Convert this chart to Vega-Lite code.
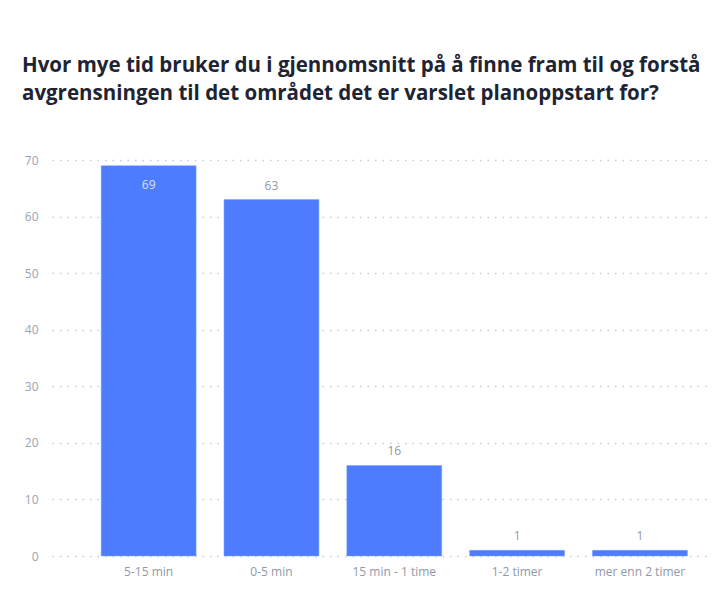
{
  "$schema": "https://vega.github.io/schema/vega-lite/v6.json",
  "autosize": "none",
  "width": 655,
  "height": 396,
  "padding": {"left": 52, "top": 160, "right": 15, "bottom": 34},
  "background": "white",
  "title": {
    "text": ["Hvor mye tid bruker du i gjennomsnitt på å finne fram til og forstå", "avgrensningen til det området det er varslet planoppstart for?"],
    "anchor": "start",
    "frame": "group",
    "dx": -30,
    "offset": 50,
    "font": "Open Sans",
    "fontSize": 20.5,
    "fontWeight": "bold",
    "color": "#1e2433",
    "lineHeight": 27.5
  },
  "config": {
    "view": {"stroke": null},
    "font": "Open Sans"
  },
  "data": {
    "values": [
      {"kategori": "5-15 min", "antall": 69},
      {"kategori": "0-5 min", "antall": 63},
      {"kategori": "15 min - 1 time", "antall": 16},
      {"kategori": "1-2 timer", "antall": 1},
      {"kategori": "mer enn 2 timer", "antall": 1}
    ]
  },
  "encoding": {
    "x": {
      "field": "kategori",
      "type": "nominal",
      "sort": null,
      "scale": {"paddingInner": 0.227, "paddingOuter": 0.28, "align": 0.715},
      "axis": {"title": null, "labelAngle": 0, "domain": false, "ticks": false, "labelPadding": 10, "labelColor": "#8f99a8", "labelFontSize": 12, "labelFont": "Open Sans"}
    },
    "y": {
      "field": "antall",
      "type": "quantitative",
      "scale": {"domain": [0, 70], "nice": false},
      "axis": {"title": null, "values": [0, 10, 20, 30, 40, 50, 60, 70], "domain": false, "ticks": false, "labelPadding": 14, "labelColor": "#9aa3b2", "labelFontSize": 12, "gridColor": "#c5cbd5", "gridDash": [1.5, 6], "gridWidth": 1.5}
    }
  },
  "layer": [
    {"mark": {"type": "bar", "color": "#4d7cfe", "stroke": "#7fa0ff", "strokeWidth": 0.5}},
    {
      "transform": [{"filter": "datum.antall >= 66"}],
      "mark": {"type": "text", "baseline": "top", "dy": 14, "fontSize": 12, "color": "#dbe4ff"},
      "encoding": {"text": {"field": "antall", "type": "quantitative"}}
    },
    {
      "transform": [{"filter": "datum.antall < 66"}],
      "mark": {"type": "text", "baseline": "bottom", "dy": -7, "fontSize": 12, "color": "#8f99a8"},
      "encoding": {"text": {"field": "antall", "type": "quantitative"}}
    }
  ]
}
